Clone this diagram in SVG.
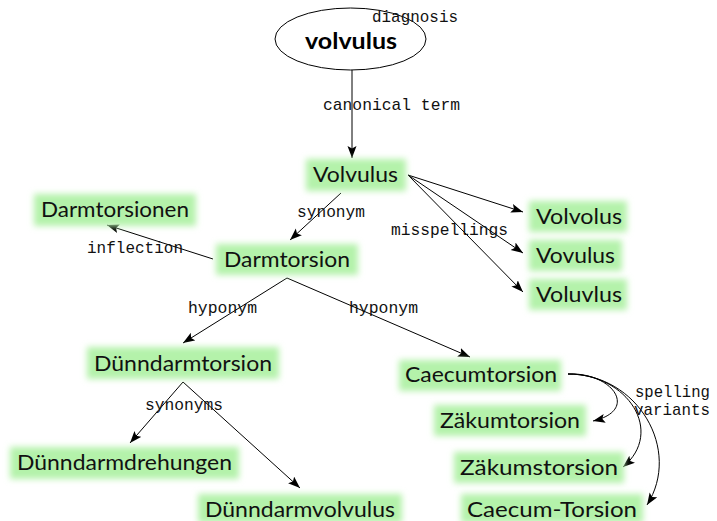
<svg xmlns="http://www.w3.org/2000/svg" width="717" height="521" viewBox="0 0 717 521">
<style>
.n{font-family:Lato,"Open Sans","Liberation Sans",sans-serif;font-size:21px;fill:#111}
.m{font-family:"Liberation Mono","DejaVu Sans Mono",monospace;font-size:17px;fill:#111}
.g{fill:#b4f2aa;filter:url(#blur)}
.e{fill:none;stroke:#000;stroke-width:1}
</style>
<defs>
<filter id="blur" x="-20%" y="-50%" width="140%" height="200%"><feGaussianBlur stdDeviation="3"/></filter>
<marker id="ah" markerUnits="userSpaceOnUse" markerWidth="13" markerHeight="10" refX="12" refY="4.5" orient="auto"><path d="M0,0 L12,4.5 L0,9 L2.5,4.5 z" fill="#000"/></marker>
</defs>
<rect width="717" height="521" fill="#fff"/>
<g id="connectors">
<path class="e" d="M352,70 L352,158" marker-end="url(#ah)"/>
<path class="e" d="M341,193 L290,240" marker-end="url(#ah)"/>
<path class="e" d="M213,259 L107,225" marker-end="url(#ah)"/>
<path class="e" d="M408,175 L523,212" marker-end="url(#ah)"/>
<path class="e" d="M408,175 L523,253" marker-end="url(#ah)"/>
<path class="e" d="M408,175 L523,292" marker-end="url(#ah)"/>
<path class="e" d="M287,278 L183,343" marker-end="url(#ah)"/>
<path class="e" d="M287,278 L470,357" marker-end="url(#ah)"/>
<path class="e" d="M183,382 L130,443" marker-end="url(#ah)"/>
<path class="e" d="M183,382 L300,488" marker-end="url(#ah)"/>
<path class="e" d="M568,374 C612,372 640,410 593,421" marker-end="url(#ah)"/>
<path class="e" d="M568,374 C628,374 665,432 623,467" marker-end="url(#ah)"/>
<path class="e" d="M568,374 C638,374 682,450 647,505" marker-end="url(#ah)"/>
<text class="m" x="323" y="110" textLength="137" lengthAdjust="spacingAndGlyphs">canonical term</text>
<text class="m" x="297" y="217" textLength="68" lengthAdjust="spacingAndGlyphs">synonym</text>
<text class="m" x="87" y="253" textLength="96" lengthAdjust="spacingAndGlyphs">inflection</text>
<text class="m" x="391" y="235" textLength="117" lengthAdjust="spacingAndGlyphs">misspellings</text>
<text class="m" x="188" y="313" textLength="69" lengthAdjust="spacingAndGlyphs">hyponym</text>
<text class="m" x="349" y="313" textLength="69" lengthAdjust="spacingAndGlyphs">hyponym</text>
<text class="m" x="145" y="410" textLength="78" lengthAdjust="spacingAndGlyphs">synonyms</text>
<text class="m" x="635" y="397" textLength="75" lengthAdjust="spacingAndGlyphs">spelling</text>
<text class="m" x="634" y="415" textLength="76" lengthAdjust="spacingAndGlyphs">variants</text>
</g>
<g id="n-volvulus-concept">
<ellipse class="e" cx="350.5" cy="39" rx="75.5" ry="31"/>
<text x="305" y="49" font-family="Lato,'Open Sans','Liberation Sans',sans-serif" font-weight="bold" font-size="22" fill="#000" textLength="92" lengthAdjust="spacingAndGlyphs">volvulus</text>
<text class="m" x="372" y="22" textLength="86" lengthAdjust="spacingAndGlyphs">diagnosis</text>
</g>
<g id="n-Volvulus"><rect class="g" x="306" y="159" width="100" height="32"/><text class="n" x="313" y="182" textLength="85" lengthAdjust="spacingAndGlyphs">Volvulus</text></g>
<g id="n-Darmtorsionen"><rect class="g" x="34" y="194" width="162" height="32"/><text class="n" x="41" y="217" textLength="148" lengthAdjust="spacingAndGlyphs">Darmtorsionen</text></g>
<g id="n-Darmtorsion"><rect class="g" x="216" y="244" width="142" height="31"/><text class="n" x="224" y="267" textLength="126" lengthAdjust="spacingAndGlyphs">Darmtorsion</text></g>
<g id="n-Volvolus"><rect class="g" x="529" y="201" width="98" height="31"/><text class="n" x="536" y="224" textLength="86" lengthAdjust="spacingAndGlyphs">Volvolus</text></g>
<g id="n-Vovulus"><rect class="g" x="529" y="240" width="93" height="31"/><text class="n" x="536" y="263" textLength="79" lengthAdjust="spacingAndGlyphs">Vovulus</text></g>
<g id="n-Voluvlus"><rect class="g" x="529" y="279" width="98" height="31"/><text class="n" x="536" y="302" textLength="86" lengthAdjust="spacingAndGlyphs">Voluvlus</text></g>
<g id="n-Duenndarmtorsion"><rect class="g" x="87" y="347" width="192" height="32"/><text class="n" x="94" y="371" textLength="178" lengthAdjust="spacingAndGlyphs">Dünndarmtorsion</text></g>
<g id="n-Caecumtorsion"><rect class="g" x="399" y="360" width="162" height="31"/><text class="n" x="405" y="382" textLength="152" lengthAdjust="spacingAndGlyphs">Caecumtorsion</text></g>
<g id="n-Zaekumtorsion"><rect class="g" x="434" y="405" width="152" height="31"/><text class="n" x="440" y="428" textLength="140" lengthAdjust="spacingAndGlyphs">Zäkumtorsion</text></g>
<g id="n-Zaekumstorsion"><rect class="g" x="454" y="452" width="170" height="31"/><text class="n" x="460" y="475" textLength="158" lengthAdjust="spacingAndGlyphs">Zäkumstorsion</text></g>
<g id="n-Caecum-Torsion"><rect class="g" x="461" y="494" width="182" height="29"/><text class="n" x="467" y="517" textLength="170" lengthAdjust="spacingAndGlyphs">Caecum-Torsion</text></g>
<g id="n-Duenndarmdrehungen"><rect class="g" x="10" y="447" width="229" height="32"/><text class="n" x="17" y="470" textLength="215" lengthAdjust="spacingAndGlyphs">Dünndarmdrehungen</text></g>
<g id="n-Duenndarmvolvulus"><rect class="g" x="198" y="494" width="204" height="29"/><text class="n" x="205" y="517" textLength="190" lengthAdjust="spacingAndGlyphs">Dünndarmvolvulus</text></g>
</svg>
